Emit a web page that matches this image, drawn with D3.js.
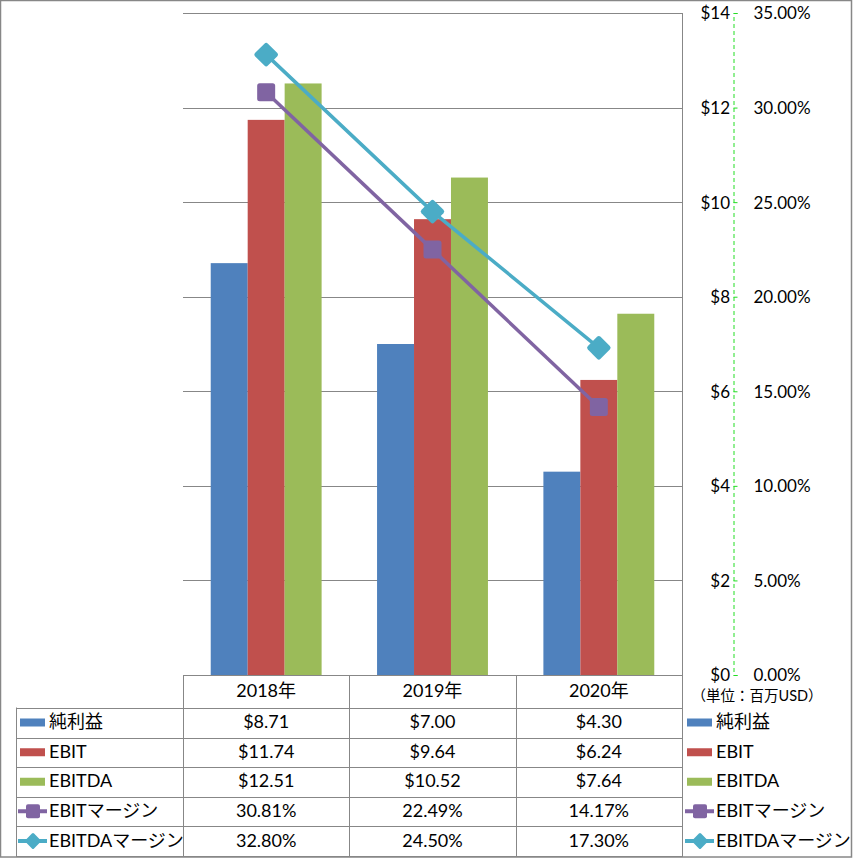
<!DOCTYPE html>
<html><head><meta charset="utf-8">
<script src="https://cdn.jsdelivr.net/npm/d3@7"></script>
<style>
body{margin:0;background:#fff;}
text{font-family:Lato,"Noto Sans CJK JP",sans-serif;fill:#000;}
</style></head>
<body><svg id="c" width="853" height="858"></svg>
<script>
const categories = ["2018年","2019年","2020年"];
const netIncome = [8.71, 7.00, 4.30];
const ebit = [11.74, 9.64, 6.24];
const ebitda = [12.51, 10.52, 7.64];
const ebitMargin = [30.81, 22.49, 14.17];
const ebitdaMargin = [32.80, 24.50, 17.30];
const barSeries = ["純利益","EBIT","EBITDA"];
const lineSeries = ["EBITマージン","EBITDAマージン"];
const dollarTicks = [0,2,4,6,8,10,12,14];
const pctTicks = [0,5,10,15,20,25,30,35];
const unitLabel = "（単位：百万USD）";

const colors = {"純利益":"#4F81BD","EBIT":"#C0504D","EBITDA":"#9BBB59","EBITマージン":"#8064A2","EBITDAマージン":"#4BACC6"};
const grey = "#878787";
const svg = d3.select("#c");

// outer frame
svg.append("rect").attr("x",0.5).attr("y",0.5).attr("width",851).attr("height",856.5)
  .attr("fill","none").attr("stroke",grey).attr("stroke-width",1.5);

const L = 183, R = 682, T = 13, B = 675;
const x0 = d3.scaleBand().domain(categories).range([L,R]).padding(0);
const bw = x0.bandwidth();
const barW = bw/4.5;
const x1 = d3.scaleBand().domain(barSeries).range([barW*0.75, bw-barW*0.75]).padding(0);
const y = d3.scaleLinear().domain([0,14]).range([B,T]);
const y2 = d3.scaleLinear().domain([0,35]).range([B,T]);

// gridlines
svg.append("g").selectAll("line").data(dollarTicks).join("line")
  .attr("x1",L).attr("x2",R).attr("y1",d=>Math.round(y(d))+0.5).attr("y2",d=>Math.round(y(d))+0.5)
  .attr("stroke",grey).attr("stroke-width",1);
svg.append("line").attr("x1",R+0.5).attr("x2",R+0.5).attr("y1",T).attr("y2",B).attr("stroke",grey);

// bars
const barData = [netIncome, ebit, ebitda];
barSeries.forEach((s,si)=>{
  svg.append("g").selectAll("rect").data(categories).join("rect")
    .attr("x",(c)=>x0(c)+x1(s)).attr("width",x1.bandwidth())
    .attr("y",(c,i)=>y(barData[si][i])).attr("height",(c,i)=>y(0)-y(barData[si][i]))
    .attr("fill",colors[s]);
});

// lines
const lineData = [ebitMargin, ebitdaMargin];
lineSeries.forEach((s,si)=>{
  const pts = categories.map((c,i)=>[x0(c)+bw/2, y2(lineData[si][i])]);
  svg.append("path").attr("d",d3.line()(pts)).attr("fill","none")
    .attr("stroke",colors[s]).attr("stroke-width",3.5);
  const g = svg.append("g");
  pts.forEach(p=>{
    if(si===0){
      g.append("rect").attr("x",p[0]-9).attr("y",p[1]-9).attr("width",18).attr("height",18)
        .attr("rx",2.5).attr("fill",colors[s]);
    } else {
      g.append("rect").attr("x",-9).attr("y",-9).attr("width",18).attr("height",18).attr("rx",2.5)
        .attr("fill",colors[s]).attr("transform",`translate(${p[0]},${p[1]}) rotate(45)`);
    }
  });
});

// right axes
const axX = 733;
const dollarAxis = d3.axisLeft(y).tickValues(dollarTicks).tickFormat(d=>"$"+d).tickSize(0).tickPadding(3);
const ga = svg.append("g").attr("transform",`translate(${axX},0)`).call(dollarAxis);
ga.select(".domain").remove();
ga.selectAll("text").style("font-size","17px").attr("dy","0.35em");

const pctAxis = d3.axisRight(y2).tickValues(pctTicks).tickFormat(d=>d.toFixed(2)+"%").tickSize(4).tickSizeOuter(4).tickPadding(16);
const gp = svg.append("g").attr("transform",`translate(${axX+0.5},0)`).call(pctAxis);
gp.select(".domain").attr("stroke","#22DD22").attr("stroke-dasharray","4,3");
gp.selectAll(".tick line").attr("stroke","#22DD22");
gp.selectAll("text").style("font-size","17px").attr("dy","0.35em");

svg.append("text").attr("x",757).attr("y",697).attr("text-anchor","middle").attr("dominant-baseline","middle")
  .style("font-size","14.5px").text(unitLabel);

// data table
const rowY = [675, 707.5, 737.5, 767, 796.5, 826, 856];
const tbl = svg.append("g");
tbl.append("line").attr("x1",L).attr("x2",R).attr("y1",rowY[0]+0.5).attr("y2",rowY[0]+0.5).attr("stroke",grey);
for(let i=1;i<rowY.length;i++){
  tbl.append("line").attr("x1",16).attr("x2",R).attr("y1",Math.round(rowY[i])+0.5).attr("y2",Math.round(rowY[i])+0.5).attr("stroke",grey);
}
tbl.append("line").attr("x1",16.5).attr("x2",16.5).attr("y1",rowY[1]).attr("y2",857).attr("stroke",grey);
[L, x0(categories[1]), x0(categories[2]), R].forEach(xv=>{
  tbl.append("line").attr("x1",Math.round(xv)+0.5).attr("x2",Math.round(xv)+0.5).attr("y1",rowY[0]).attr("y2",857).attr("stroke",grey);
});
categories.forEach(c=>{
  tbl.append("text").attr("x",x0(c)+bw/2).attr("y",(rowY[0]+rowY[1])/2+1).attr("text-anchor","middle")
    .attr("dominant-baseline","middle").style("font-size","18px").text(c);
});
const allSeries = barSeries.concat(lineSeries);
const allData = [netIncome, ebit, ebitda, ebitMargin, ebitdaMargin];
const fmt = (si,v)=> si<3 ? "$"+v.toFixed(2) : v.toFixed(2)+"%";

function legendKey(g, s, si, xk, cy){
  if(si<3){
    g.append("rect").attr("x",xk).attr("y",cy-4).attr("width",25).attr("height",8).attr("fill",colors[s]);
  } else {
    g.append("line").attr("x1",xk-2).attr("x2",xk+27).attr("y1",cy).attr("y2",cy).attr("stroke",colors[s]).attr("stroke-width",4);
    if(si===3){
      g.append("rect").attr("x",xk+6).attr("y",cy-7).attr("width",14).attr("height",14).attr("rx",2).attr("fill",colors[s]);
    } else {
      g.append("rect").attr("x",-6).attr("y",-6).attr("width",12).attr("height",12).attr("rx",1.5)
        .attr("fill",colors[s]).attr("transform",`translate(${xk+13},${cy}) rotate(45)`);
    }
  }
}

allSeries.forEach((s,si)=>{
  const cy = (rowY[si+1]+rowY[si+2])/2;
  legendKey(tbl, s, si, 20, cy);
  tbl.append("text").attr("x",49).attr("y",cy+1).attr("dominant-baseline","middle").style("font-size","18px").text(s);
  categories.forEach((c,i)=>{
    tbl.append("text").attr("x",x0(c)+bw/2).attr("y",cy+1).attr("text-anchor","middle")
      .attr("dominant-baseline","middle").style("font-size","18px").text(fmt(si,allData[si][i]));
  });
  legendKey(tbl, s, si, 687, cy);
  tbl.append("text").attr("x",716).attr("y",cy+1).attr("dominant-baseline","middle").style("font-size","18px").text(s);
});
</script></body></html>
